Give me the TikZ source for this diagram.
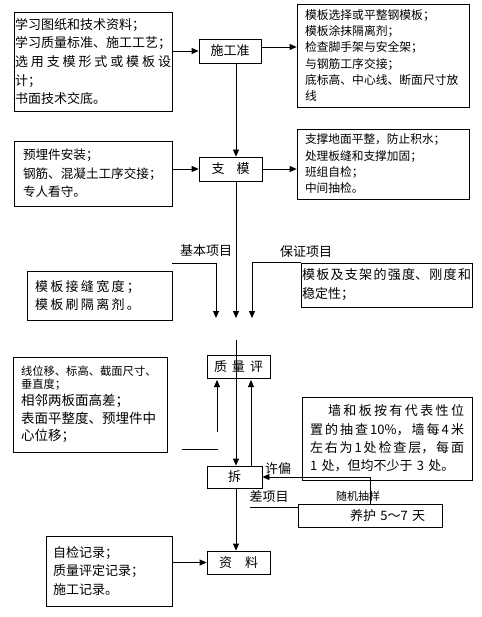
\documentclass[tikz,border=0pt]{standalone}
\usepackage{fontspec}
\setmainfont{Noto Sans CJK SC}
\usetikzlibrary{arrows.meta}
\begin{document}
\begin{tikzpicture}[x=1pt,y=-1pt,
  bx/.style={draw,line width=0.8pt,inner ysep=0pt,align=left},
  sbox/.style={draw,line width=0.8pt,inner sep=0pt,align=center,font=\fontsize{13}{15}\selectfont},
  ln/.style={line width=0.8pt},
  arr/.style={ln,-{Triangle[length=7pt,width=6pt]}},
  lbl/.style={inner sep=0pt,font=\fontsize{13}{15}\selectfont}]
\useasboundingbox (0,0) rectangle (481,617);
\fill[white] (0,0) rectangle (481,617);

% boxes
\node[bx,inner xsep=1pt,text width=156pt,minimum height=99pt,font=\fontsize{13}{18.7}\selectfont] (A) at (93,61.5)
 {学习图纸和技术资料；\\学习质量标准、施工工艺；\\\makebox[156pt][s]{选\hfill 用\hfill 支\hfill 模\hfill 形\hfill 式\hfill 或\hfill 模\hfill 板\hfill 设}\\计；\\书面技术交底。};
\node[sbox,minimum width=62pt,minimum height=24pt] (prep) at (230,51) {施工准};
\node[bx,inner xsep=8pt,text width=156pt,minimum height=103pt,font=\fontsize{11.8}{16.2}\selectfont] (B) at (383,55.5)
 {模板选择或平整钢模板；\\模板涂抹隔离剂；\\检查脚手架与安全架；\\与钢筋工序交接；\\底标高、中心线、断面尺寸放\\线};
\node[bx,inner xsep=9pt,text width=140pt,minimum height=65pt,font=\fontsize{12.6}{18.5}\selectfont] (C) at (93,173.5)
 {预埋件安装；\\钢筋、混凝土工序交接；\\专人看守。};
\node[sbox,minimum width=63pt,minimum height=24pt] (zm) at (230.5,169) {支\hspace{12pt}模};
\node[bx,inner xsep=8pt,text width=156pt,minimum height=70pt,font=\fontsize{11.7}{16.3}\selectfont] (D) at (383,164)
 {支撑地面平整，防止积水；\\处理板缝和支撑加固；\\班组自检；\\中间抽检。};
\node[bx,inner xsep=1pt,text width=169pt,minimum height=44pt,font=\fontsize{13}{19}\selectfont] (E) at (386.5,285)
 {\makebox[169pt][s]{模\hfill 板\hfill 及\hfill 支\hfill 架\hfill 的\hfill 强\hfill 度、\hfill 刚\hfill 度\hfill 和}\\稳定性；};
\node[bx,inner xsep=8pt,text width=129pt,minimum height=49pt,font=\fontsize{13}{18}\selectfont] (F) at (99.5,295.5)
 {\makebox[105pt][s]{模\hfill 板\hfill 接\hfill 缝\hfill 宽\hfill 度\hfill ；}\\\makebox[105pt][s]{模\hfill 板\hfill 刷\hfill 隔\hfill 离\hfill 剂\hfill 。}};
\node[sbox,minimum width=63pt,minimum height=23pt] (q) at (238.5,366.5) {质\hspace{5pt}量\hspace{5pt}评};
\node[bx,inner xsep=8pt,text width=138pt,minimum height=95pt,font=\fontsize{13.5}{17.5}\selectfont] (G) at (90,404.5)
 {{\fontsize{11.3}{13}\selectfont 线位移、标高、截面尺寸、}\\[-4.5pt]{\fontsize{11.3}{13}\selectfont 垂直度；}\\[-0.5pt]相邻两板面高差；\\表面平整度、预埋件中\\心位移；};
\node[bx,inner xsep=8pt,text width=154pt,minimum height=83pt,font=\fontsize{13}{18.3}\selectfont] (H) at (387,438.5)
 {\hspace*{18pt}\makebox[136pt][s]{墙\hfill 和\hfill 板\hfill 按\hfill 有\hfill 代\hfill 表\hfill 性\hfill 位}\\
  \makebox[154pt][s]{置\hfill 的\hfill 抽\hfill 查\hfill 10\%，\hfill 墙\hfill 每\hfill 4\hfill 米}\\
  \makebox[154pt][s]{左\hfill 右\hfill 为\hfill 1\hfill 处\hfill 检\hfill 查\hfill 层，\hfill 每\hfill 面}\\
  1 处，但均不少于 3 处。};
\node[sbox,minimum width=55pt,minimum height=22pt] (cx) at (234.5,477) {拆};
\node[bx,inner xsep=0pt,text width=144pt,minimum height=23pt,font=\fontsize{13}{15}\selectfont] (yh) at (370,515.5)
 {\hspace*{52pt}养护 5～7 天};
\node[sbox,minimum width=63pt,minimum height=23pt] (zl) at (238.5,562.5) {资\hspace{13pt}料};
\node[bx,inner xsep=7pt,text width=112pt,minimum height=70pt,font=\fontsize{13}{18.5}\selectfont] (I) at (109,571)
 {自检记录；\\质量评定记录；\\施工记录。};

% labels
\node[lbl] (jb) at (206,251) {基本项目};
\node[lbl] (bz) at (306,252) {保证项目};
\node[lbl] (xp) at (278,469) {许偏};
\node[lbl] (cxm) at (269,497) {差项目};
\node[lbl,font=\fontsize{11}{13}\selectfont] (sj) at (358,496) {随机抽样};

% coordinates
\coordinate (mx) at (236,0);
\coordinate (rx) at (251,0);
\coordinate (yx) at (370,0);
\coordinate (cy) at (0,507);
\coordinate (jbs) at (172,263);
\coordinate (jbe) at (216,318);
\coordinate (mid) at (236,318);
\coordinate (bze) at (252,318);
\coordinate (q1) at (236,340);
\coordinate (ul1) at (217,432);
\coordinate (ul2) at (217,380);
\coordinate (ur2) at (251,380);
\coordinate (h1) at (182,449);
\coordinate (h2) at (218,449);
\coordinate (cs) at (250,507);

% connectors
\draw[arr] (A.east |- prep.west) -- (prep.west);
\draw[arr] ([yshift=4pt]prep.east) -- ([yshift=4pt]prep.east -| B.west);
\draw[arr] (prep.south -| mx) -- (zm.north -| mx);
\draw[arr] (C.east |- zm.west) -- (zm.west);
\draw[arr] (zm.east) -- (zm.east -| D.west);
\draw[arr] (zm.south -| mx) -- (mid);
\draw[arr] (jbs) -| (jbe);
\draw[arr] (E.north west) -| (bze);
\draw[arr] (q1) -- (cx.north -| mx);
\draw[arr] (ul1) -- (ul2);
\draw[arr] (cx.north -| rx) -- (ur2);
\draw[ln] (h1) -- (h2);
\draw[arr] (yh.north -| yx) |- (cx.east);
\draw[ln] (cs) -- (yh.west |- cy);
\draw[arr] (cx.south -| mx) -- (zl.north -| mx);
\draw[arr] (I.east |- zl.west) -- (zl.west);
\end{tikzpicture}
\end{document}
